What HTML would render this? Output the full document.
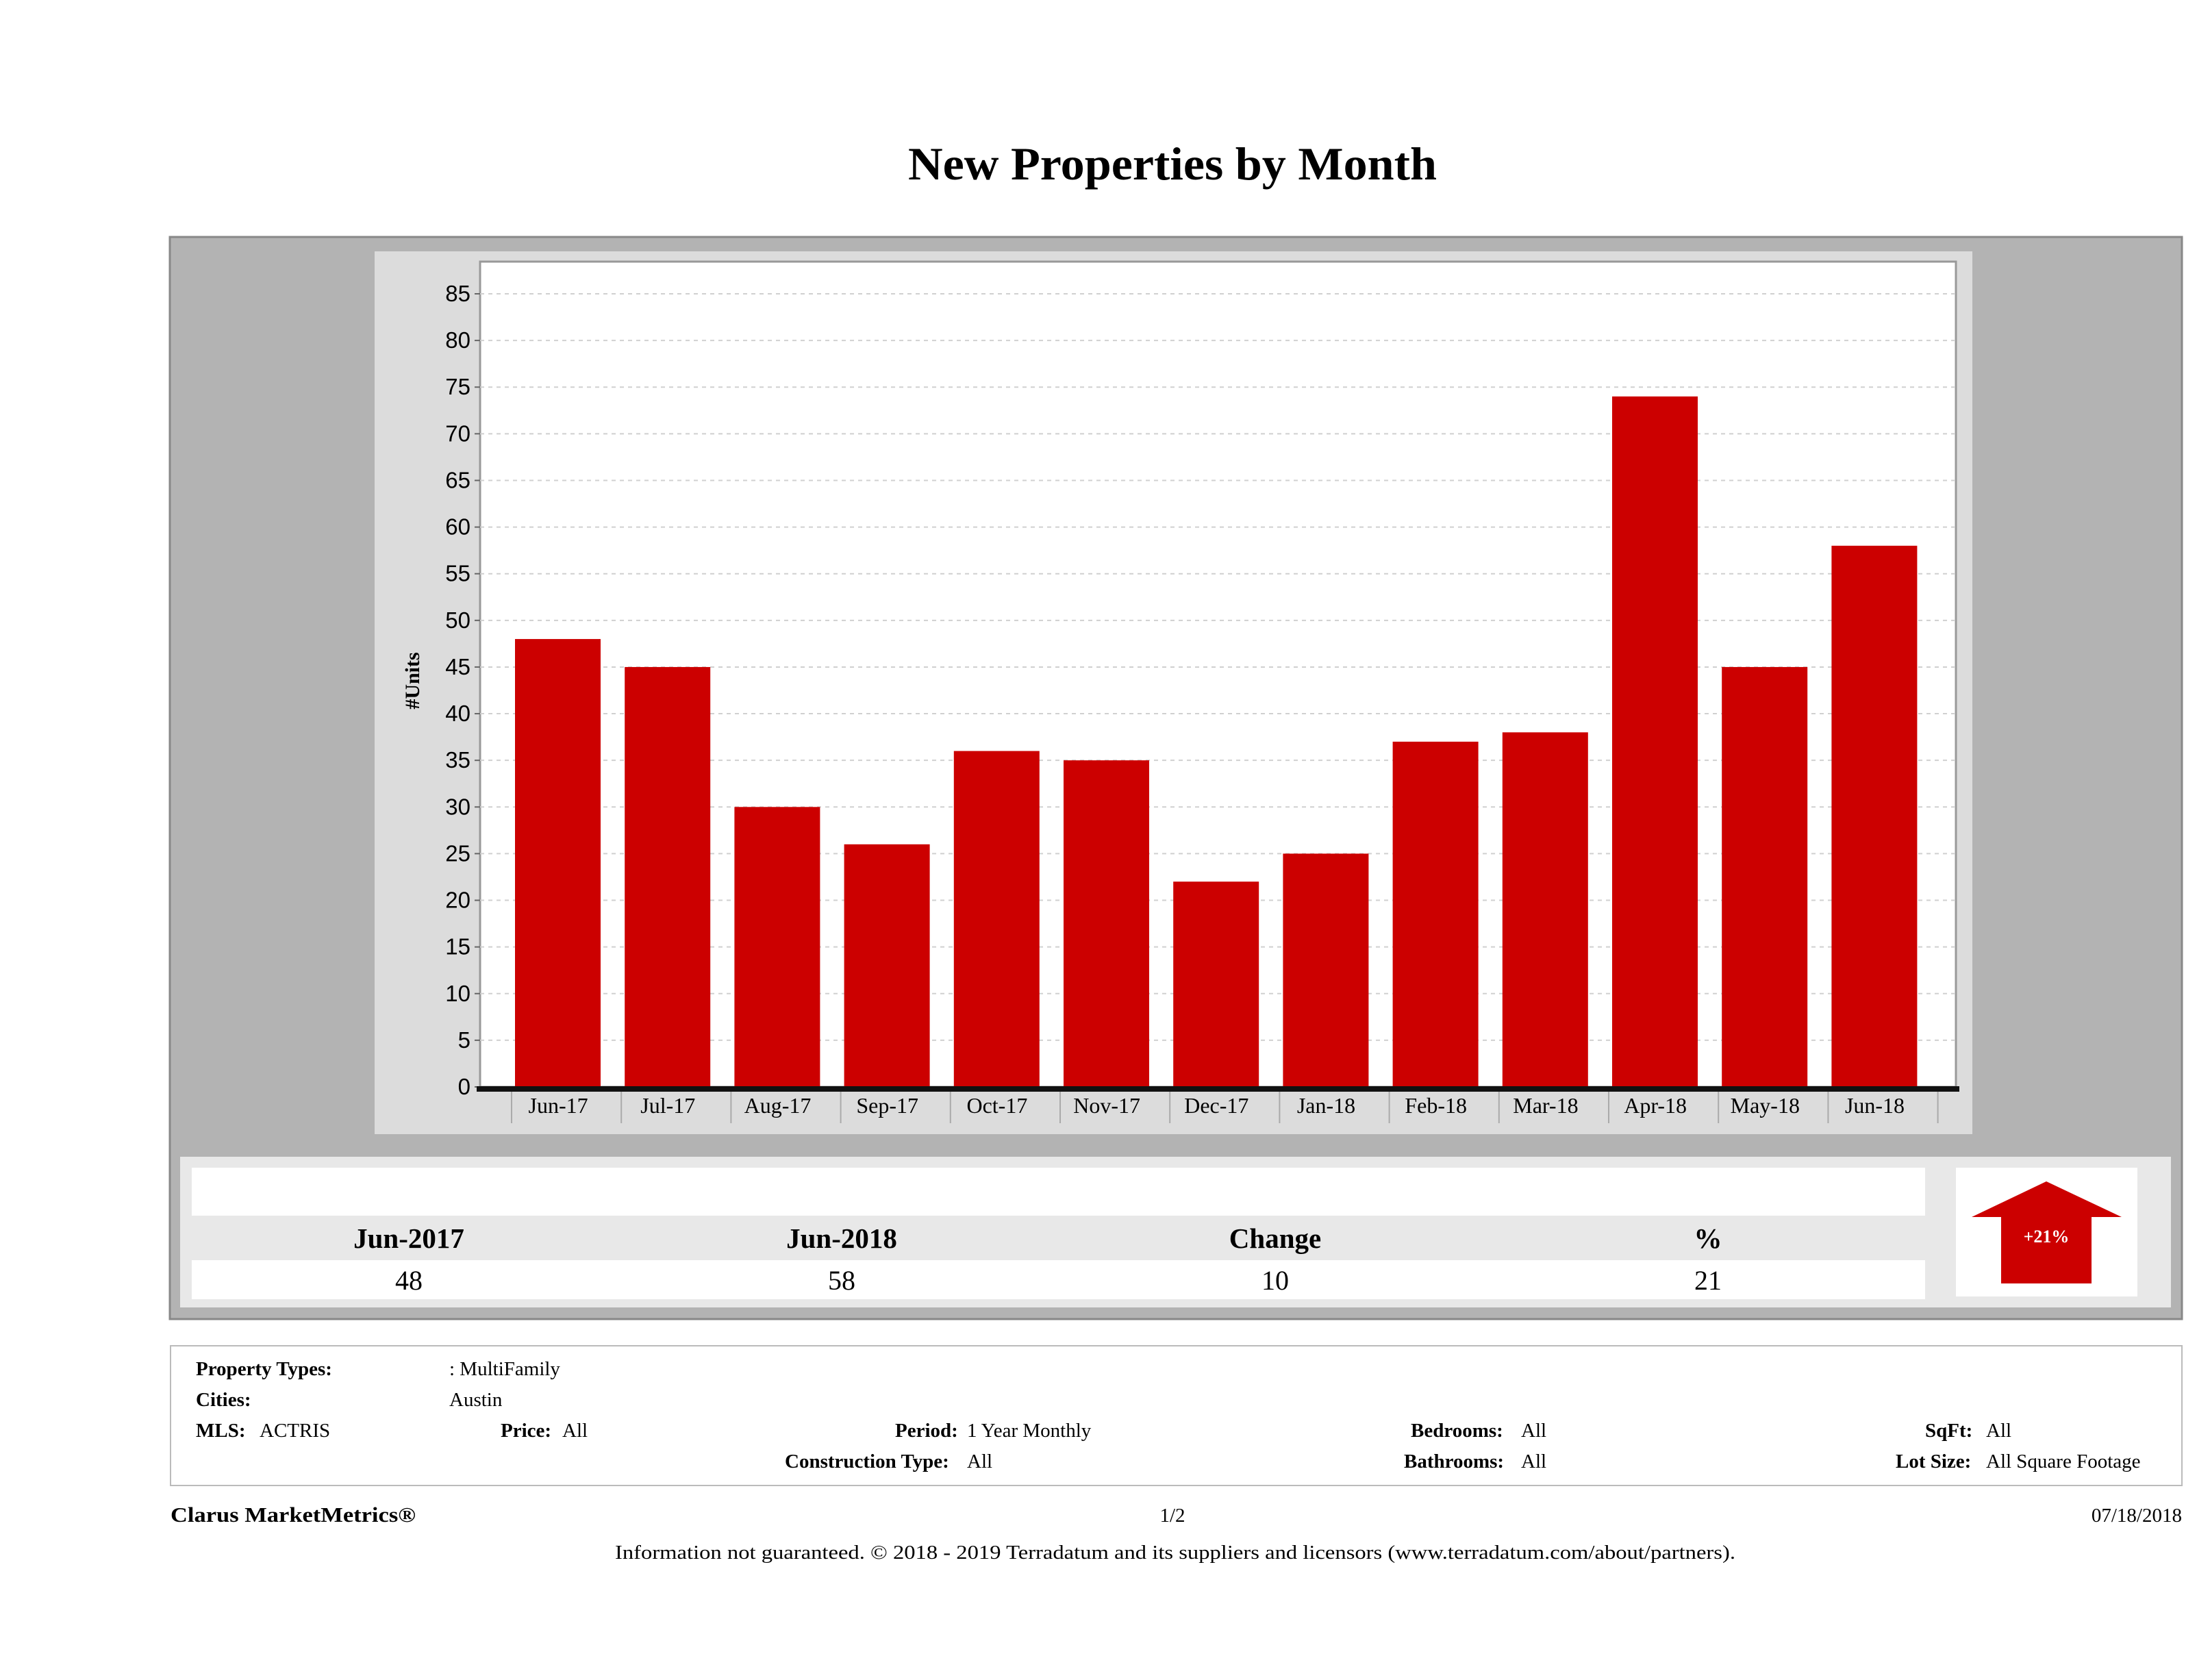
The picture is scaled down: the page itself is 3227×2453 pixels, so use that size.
<!DOCTYPE html>
<html><head><meta charset="utf-8"><style>
body{margin:0;background:#fff;}
svg text{font-family:"Liberation Serif",serif;}
</style></head><body>
<svg width="3227" height="2448" xmlns="http://www.w3.org/2000/svg">
<text x="1712" y="262" font-size="68" font-weight="bold" text-anchor="middle" textLength="772" lengthAdjust="spacingAndGlyphs">New Properties by Month</text>
<rect x="248" y="346" width="2938" height="1580" fill="#b3b3b3" stroke="#888" stroke-width="3"/>
<rect x="547" y="367" width="2333" height="1289" fill="#dcdcdc"/>
<rect x="701" y="382" width="2155" height="1205" fill="#fff" stroke="#999" stroke-width="3"/>
<g id="grid"></g><g id="bars"></g><g id="axes"></g>
<text transform="translate(612,994) rotate(-90)" font-size="30" font-weight="bold" text-anchor="middle">#Units</text>
<rect x="263" y="1689" width="2907" height="220" fill="#e8e8e8"/>
<rect x="280" y="1705" width="2531" height="70" fill="#fff"/>
<rect x="280" y="1840" width="2531" height="57" fill="#fff"/>
<g font-size="41" font-weight="bold" text-anchor="middle">
<text x="597" y="1822">Jun-2017</text>
<text x="1229" y="1822">Jun-2018</text>
<text x="1862" y="1822">Change</text>
<text x="2494" y="1822">%</text>
</g>
<g font-size="40" text-anchor="middle">
<text x="597" y="1883">48</text>
<text x="1229" y="1883">58</text>
<text x="1862" y="1883">10</text>
<text x="2494" y="1883">21</text>
</g>
<rect x="2856" y="1705" width="265" height="188" fill="#fff"/>
<polygon points="2988,1725 3098,1777 3054,1777 3054,1874 2922,1874 2922,1777 2879,1777" fill="#cc0000"/>
<text x="2988" y="1814" font-size="26" font-weight="bold" fill="#fff" text-anchor="middle">+21%</text>
<rect x="249" y="1965" width="2937" height="204" fill="#fff" stroke="#bbb" stroke-width="2"/>
<g font-size="29">
<text x="286" y="2008" font-weight="bold">Property Types:</text>
<text x="656" y="2008">: MultiFamily</text>
<text x="286" y="2053" font-weight="bold">Cities:</text>
<text x="656" y="2053">Austin</text>
<text x="286" y="2098" font-weight="bold">MLS:</text>
<text x="379" y="2098">ACTRIS</text>
<text x="731" y="2098" font-weight="bold">Price:</text>
<text x="821" y="2098">All</text>
<text x="1307" y="2098" font-weight="bold">Period:</text>
<text x="1412" y="2098">1 Year Monthly</text>
<text x="1146" y="2143" font-weight="bold">Construction Type:</text>
<text x="1412" y="2143">All</text>
<text x="2060" y="2098" font-weight="bold">Bedrooms:</text>
<text x="2221" y="2098">All</text>
<text x="2050" y="2143" font-weight="bold">Bathrooms:</text>
<text x="2221" y="2143">All</text>
<text x="2811" y="2098" font-weight="bold">SqFt:</text>
<text x="2900" y="2098">All</text>
<text x="2768" y="2143" font-weight="bold">Lot Size:</text>
<text x="2900" y="2143">All Square Footage</text>
<text x="249" y="2222" font-weight="bold" font-size="31" textLength="358" lengthAdjust="spacingAndGlyphs">Clarus MarketMetrics®</text>
<text x="1712" y="2222" text-anchor="middle">1/2</text>
<text x="3186" y="2222" text-anchor="end">07/18/2018</text>
<text x="1716" y="2276" text-anchor="middle" textLength="1636" lengthAdjust="spacingAndGlyphs">Information not guaranteed. © 2018 - 2019 Terradatum and its suppliers and licensors (www.terradatum.com/about/partners).</text>
</g>
</svg>
<script>
const categories=["Jun-17","Jul-17","Aug-17","Sep-17","Oct-17","Nov-17","Dec-17","Jan-18","Feb-18","Mar-18","Apr-18","May-18","Jun-18"];
const values=[48,45,30,26,36,35,22,25,37,38,74,45,58];
const yTicks=[0,5,10,15,20,25,30,35,40,45,50,55,60,65,70,75,80,85];
const NS="http://www.w3.org/2000/svg";
const x0=747,band=160.2,plotL=701,plotR=2856,y0=1587,yTop=429,yMaxVal=85;
function y(v){return y0-(y0-yTop)*v/yMaxVal;}
function xb(i){return x0+band*i;}
function mk(t,a,p){const e=document.createElementNS(NS,t);for(const k in a)e.setAttribute(k,a[k]);p.appendChild(e);return e;}
const grid=document.getElementById('grid'),bars=document.getElementById('bars'),axes=document.getElementById('axes');
yTicks.forEach(v=>{
  if(v>0){const g=mk('line',{x1:plotL,x2:plotR,y1:y(v),y2:y(v),stroke:'#d0d0d0','stroke-width':2,'stroke-dasharray':'6 6'},grid);
  
  }
  const tk=mk('line',{x1:plotL-8,x2:plotL,y1:y(v),y2:y(v),stroke:'#666','stroke-width':2},axes);
  
  
  const t=mk('text',{x:plotL-14,y:y(v)+11,'font-size':33,'text-anchor':'end',style:'font-family:"Liberation Sans",sans-serif'},axes);
  t.textContent=v;
  
  
});
values.forEach((v,i)=>{
  const r=mk('rect',{x:xb(i)+5,y:y(v),width:125,height:y0-y(v),fill:'#cc0000'},bars);
  
  
  const t=mk('text',{x:xb(i)+band/2-12,y:1625,'font-size':32,'text-anchor':'middle'},axes);
  t.textContent=categories[i];
  
  
});
for(let i=0;i<=categories.length;i++){
  const d=mk('line',{x1:xb(i),x2:xb(i),y1:1594,y2:1640,stroke:'#aaa','stroke-width':2},axes);
  
  
}
const ax=mk('rect',{x:plotL-5,y:y0-1,width:plotR-plotL+10,height:8,fill:'#111'},axes);


</script>
</body></html>
